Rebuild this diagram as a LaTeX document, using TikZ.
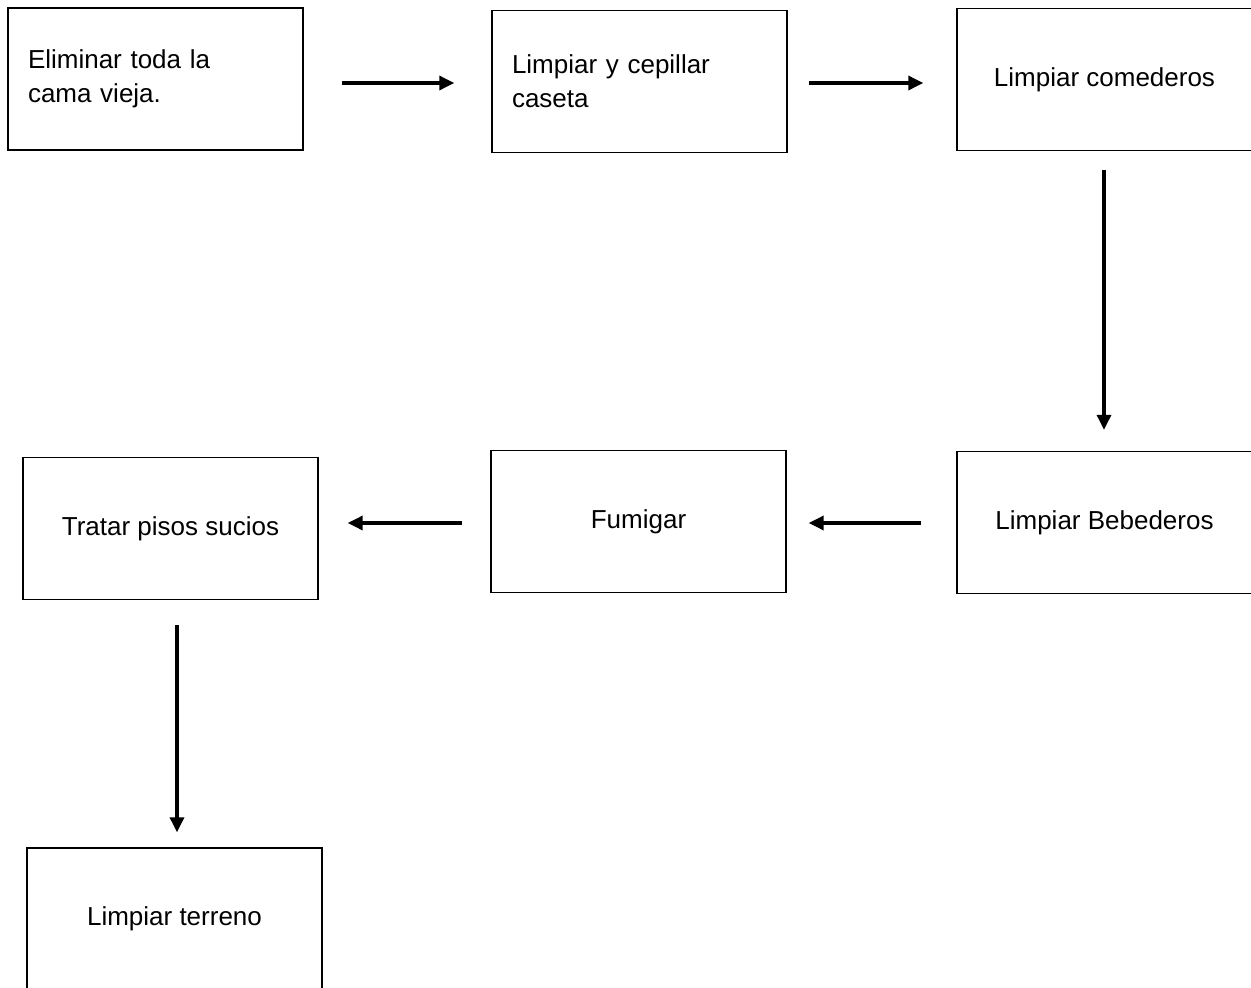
\documentclass[tikz,border=0pt]{standalone}
\usepackage{fontspec}
\setmainfont{Liberation Sans}
\usetikzlibrary{arrows.meta}
\begin{document}
\begin{tikzpicture}[x=1pt,y=1pt,
  stepbox/.style={draw, line width=1.4pt, minimum width=295pt, minimum height=142pt,
    inner sep=0pt, font=\fontsize{26}{34}\selectfont},
  leftbox/.style={stepbox, text width=255pt, align=left, inner xsep=20pt},
  flow/.style={line width=3.3pt, -{Triangle[length=15pt,width=14pt]}}]
\useasboundingbox (0,0) rectangle (1251,-988);

% process steps
\node[leftbox] (A) at (155.5,-79) {Eliminar toda la\\cama vieja.};
\node[leftbox] (B) at (639.5,-81.5) {Limpiar y cepillar\\caseta};
\node[stepbox] (C) at (1104.5,-79.5) {Limpiar comederos};
\node[stepbox] (D) at (1104.5,-522.5) {Limpiar Bebederos};
\node[stepbox] (E) at (638.5,-521.5) {Fumigar};
\node[stepbox] (F) at (170.5,-528.5) {Tratar pisos sucios};
\node[stepbox] (G) at (174.5,-919) {Limpiar terreno};

% connectors
\draw[flow, shorten <=38pt, shorten >=37pt]
  ([yshift=-4pt]A.east) -- ([yshift=-4pt]A.east -| B.west);
\draw[flow, shorten <=21pt, shorten >=33pt]
  ([yshift=-1.5pt]B.east) -- ([yshift=-1.5pt]B.east -| C.west);
\draw[flow, shorten <=19pt, shorten >=21pt]
  ([xshift=-0.5pt]C.south) -- ([xshift=-0.5pt]C.south |- D.north);
\draw[flow, shorten <=35pt, shorten >=22pt]
  ([yshift=-0.5pt]D.west) -- ([yshift=-0.5pt]D.west -| E.east);
\draw[flow, shorten <=28pt, shorten >=29pt]
  ([yshift=-1.5pt]E.west) -- ([yshift=-1.5pt]E.west -| F.east);
\draw[flow, shorten <=25pt, shorten >=15pt]
  ([xshift=6.5pt]F.south) -- ([xshift=6.5pt]F.south |- G.north);
\end{tikzpicture}
\end{document}
